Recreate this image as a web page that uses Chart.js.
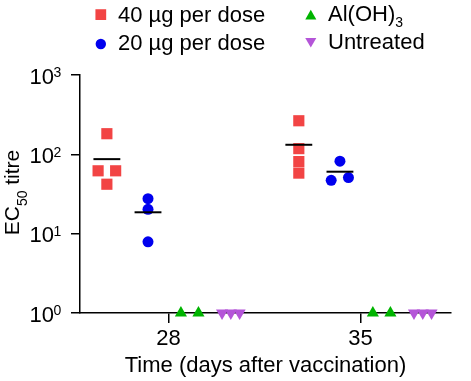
<!DOCTYPE html>
<html><head><meta charset="utf-8">
<script src="https://cdn.jsdelivr.net/npm/chart.js@4"></script>
<style>html,body{margin:0;padding:0;background:#fff}#wrap{width:471px;height:381px;position:relative}</style>
</head><body><div id="wrap"><canvas id="c"></canvas></div>
<script>
// ---- data ----
const days = [28, 35];
const xTickLabels = ['28', '35'];
const yTicks = [1, 10, 100, 1000];
const yTickExponents = ['0', '1', '2', '3'];
const seriesLabels = ['40 µg per dose', '20 µg per dose', 'Al(OH)₃', 'Untreated'];
const legendMain = ['40 µg per dose', '20 µg per dose', 'Al(OH)', 'Untreated'];
const legendSub = ['', '', '3', ''];
const dose40 = [[182, 62, 62, 42], [265, 118, 81, 58]];
const dose20 = [[27.6, 20.3, 7.9], [82, 47, 51]];
const alum = [[1, 1], [1, 1]];
const untreated = [[1, 1, 1], [1, 1, 1]];
const mean40 = [87, 132];
const mean20 = [18.6, 60.4];

// ---- positions / styles ----
const groupOffset = [-2.25, -0.75, 0.77, 2.27];
const jitter = [
  [[0, -0.32, 0.32, 0], [0, 0, 0, 0]],
  [[0, 0, 0], [0, -0.32, 0.31]],
  [[-0.32, 0.32], [-0.32, 0.32]],
  [[-0.32, 0, 0.32], [-0.32, 0, 0.32]]
];
const meanHalfWidth = 0.49;
const colors = ['#F24444', '#0000EE', '#00B400', '#B455D8'];
const FONT = "'Liberation Sans', Arial, Helvetica, sans-serif";

function pts(vals, g) {
  const out = [];
  vals.forEach((arr, d) => arr.forEach((v, i) => out.push({x: days[d] + groupOffset[g] + jitter[g][d][i], y: v})));
  return out;
}
function meanLine(means, g, d) {
  const c = days[d] + groupOffset[g];
  return {type: 'line', label: 'mean', data: [{x: c - meanHalfWidth, y: means[d]}, {x: c + meanHalfWidth, y: means[d]}],
    borderColor: '#000', borderWidth: 2, pointRadius: 0, clip: false, showLine: true};
}

const datasets = [
  meanLine(mean40, 0, 0), meanLine(mean40, 0, 1), meanLine(mean20, 1, 0), meanLine(mean20, 1, 1),
  {label: seriesLabels[0], data: pts(dose40, 0), pointStyle: 'rect', pointRadius: 7.9, backgroundColor: colors[0], borderWidth: 0, clip: false},
  {label: seriesLabels[1], data: pts(dose20, 1), pointStyle: 'circle', pointRadius: 5.5, backgroundColor: colors[1], borderWidth: 0, clip: false},
  {label: seriesLabels[2], data: pts(alum, 2), pointStyle: 'triangle', pointRadius: 7, backgroundColor: colors[2], borderWidth: 0, clip: false},
  {label: seriesLabels[3], data: pts(untreated, 3), pointStyle: 'triangle', rotation: 180, pointRadius: 7, backgroundColor: colors[3], borderWidth: 0, clip: false}
];

function drawMarker(ctx, style, x, y, r, color) {
  ctx.fillStyle = color;
  ctx.beginPath();
  if (style === 'rect') {
    const s = r * Math.SQRT1_2;
    ctx.rect(x - s, y - s, 2 * s, 2 * s);
  } else if (style === 'circle') {
    ctx.arc(x, y, r, 0, Math.PI * 2);
  } else {
    const rot = style === 'down' ? Math.PI : 0;
    let a = rot;
    ctx.moveTo(x + Math.sin(a) * r, y - Math.cos(a) * r);
    a += 2 * Math.PI / 3;
    ctx.lineTo(x + Math.sin(a) * r, y - Math.cos(a) * r);
    a += 2 * Math.PI / 3;
    ctx.lineTo(x + Math.sin(a) * r, y - Math.cos(a) * r);
    ctx.closePath();
  }
  ctx.fill();
}

const annot = {
  id: 'annot',
  afterDraw(chart) {
    const ctx = chart.ctx;
    const ys = chart.scales.y;
    ctx.save();
    ctx.fillStyle = '#000';
    // y tick labels 10^n
    yTicks.forEach((v, i) => {
      const py = ys.getPixelForValue(v);
      ctx.fillStyle = '#000';
      ctx.font = '22px ' + FONT; ctx.textAlign = 'right'; ctx.textBaseline = 'alphabetic';
      ctx.fillText('10', 54, py + 8.7);
      ctx.font = '14px ' + FONT; ctx.textAlign = 'left';
      ctx.fillText(yTickExponents[i], 53.5, py + 2.2);
    });
    // y axis title EC50 titre
    ctx.save();
    ctx.translate(18.5, (chart.chartArea.top + chart.chartArea.bottom) / 2 - 1.5);
    ctx.rotate(-Math.PI / 2);
    ctx.textAlign = 'left'; ctx.textBaseline = 'alphabetic';
    ctx.font = '21px ' + FONT; const w1 = ctx.measureText('EC').width;
    ctx.font = '14px ' + FONT; const w2 = ctx.measureText('50').width;
    ctx.font = '21px ' + FONT; const w3 = ctx.measureText(' titre').width;
    let x = -(w1 + w2 + w3) / 2;
    ctx.fillText('EC', x, 0); x += w1;
    ctx.font = '14px ' + FONT; ctx.fillText('50', x, 8); x += w2;
    ctx.font = '21px ' + FONT; ctx.fillText(' titre', x, 0);
    ctx.restore();
    // legend
    const items = [
      {style: 'rect', r: 7.6, mx: 100.8, my: 14.6, tx: 118, ty: 21.6},
      {style: 'circle', r: 5.2, mx: 100.8, my: 44, tx: 118, ty: 50},
      {style: 'up', r: 6.4, mx: 310.8, my: 16.2, tx: 328, ty: 21.3},
      {style: 'down', r: 6.4, mx: 310.8, my: 41.2, tx: 328, ty: 49.3}
    ];
    items.forEach((it, i) => {
      drawMarker(ctx, it.style, it.mx, it.my, it.r, colors[i]);
      ctx.fillStyle = '#000';
      ctx.font = '22px ' + FONT; ctx.textAlign = 'left'; ctx.textBaseline = 'alphabetic';
      ctx.fillText(legendMain[i], it.tx, it.ty);
      if (legendSub[i]) {
        const w = ctx.measureText(legendMain[i]).width;
        ctx.font = '14px ' + FONT;
        ctx.fillText(legendSub[i], it.tx + w, it.ty + 5.7);
      }
    });
    ctx.restore();
  }
};

new Chart(document.getElementById('c'), {
  type: 'scatter',
  data: {datasets},
  options: {
    responsive: true, maintainAspectRatio: false, animation: false, devicePixelRatio: 1,
    layout: {padding: {top: 75, right: 20, left: 0, bottom: 0}},
    plugins: {legend: {display: false}, tooltip: {enabled: false}},
    scales: {
      x: {
        type: 'linear', min: 24.77, max: 38.3,
        afterBuildTicks: s => { s.ticks = days.map(v => ({value: v})); },
        afterFit: s => { s.height = 68; },
        ticks: {callback: (v, i) => xTickLabels[i], font: {size: 22, family: FONT}, color: '#000', padding: 3, maxRotation: 0, autoSkip: false},
        grid: {display: true, drawOnChartArea: false, drawTicks: true, tickLength: 10, color: '#000', lineWidth: 1.5},
        border: {display: true, color: '#000', width: 1.5},
        title: {display: true, text: 'Time (days after vaccination)', font: {size: 22, family: FONT}, color: '#000', padding: {top: 0, bottom: 2}}
      },
      y: {
        type: 'logarithmic', min: 1, max: 1000,
        afterBuildTicks: s => { s.ticks = yTicks.map(v => ({value: v})); },
        afterFit: s => { s.width = 80; },
        ticks: {display: false},
        grid: {display: true, drawOnChartArea: false, drawTicks: true, tickLength: 9, color: '#000', lineWidth: 1.5},
        border: {display: true, color: '#000', width: 1.5}
      }
    }
  },
  plugins: [annot]
});
</script>
</body></html>
